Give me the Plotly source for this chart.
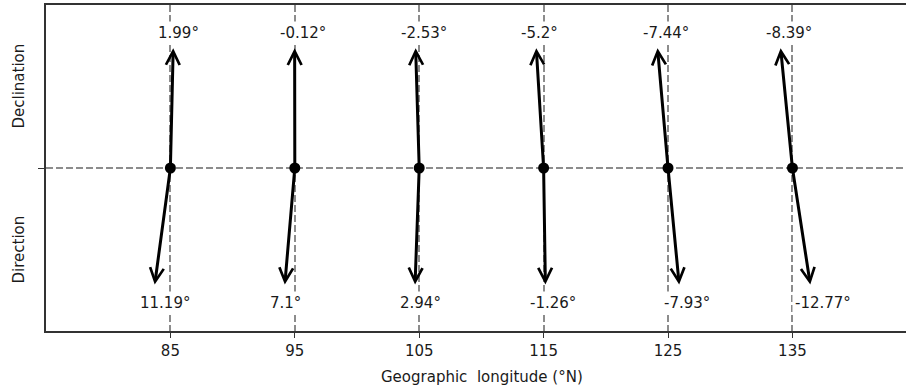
import math
import plotly.graph_objects as go

# ---- data ----
longitudes = [85, 95, 105, 115, 125, 135]
declination_deg = [1.99, -0.12, -2.53, -5.2, -7.44, -8.39]
direction_deg = [11.19, 7.1, 2.94, -1.26, -7.93, -12.77]
tick_labels = ["85", "95", "105", "115", "125", "135"]

# ---- geometry/style ----
X_RANGE = [75, 144.13]
UP_LEN = 0.735
DOWN_LEN = 0.715
DX_SCALE = 6.5
LABEL_Y = 0.83
FONT = "DejaVu Sans"

fig = go.Figure()

fig.add_trace(go.Scatter(
    x=longitudes, y=[0] * len(longitudes), mode="markers",
    marker=dict(color="black", size=11), showlegend=False, hoverinfo="skip"))

annotations = []
for lon, dec, dr in zip(longitudes, declination_deg, direction_deg):
    up_x = lon + DX_SCALE * math.sin(math.radians(dec))
    dn_x = lon - DX_SCALE * math.sin(math.radians(dr))
    for tip_x, tip_y, val, ly in ((up_x, UP_LEN, dec, LABEL_Y), (dn_x, -DOWN_LEN, dr, -LABEL_Y)):
        annotations.append(dict(
            x=tip_x, y=tip_y, ax=lon, ay=0, xref="x", yref="y", axref="x", ayref="y",
            showarrow=True, arrowhead=5, arrowwidth=3, arrowsize=0.9,
            arrowcolor="black", standoff=0, startstandoff=0, text=""))
        annotations.append(dict(
            x=tip_x, y=ly, xref="x", yref="y", showarrow=False,
            text=f"{val}°", xanchor="left", yanchor="middle", xshift=-18,
            bgcolor="white", borderpad=2,
            font=dict(family=FONT, size=15, color="#1a1a1a")))

annotations.append(dict(x=0, y=0.5, xref="paper", yref="y", showarrow=False,
                        text="Declination", textangle=-90, xshift=-28,
                        xanchor="center", yanchor="middle",
                        font=dict(family=FONT, size=15, color="#1a1a1a")))
annotations.append(dict(x=0, y=-0.5, xref="paper", yref="y", showarrow=False,
                        text="Direction", textangle=-90, xshift=-28,
                        xanchor="center", yanchor="middle",
                        font=dict(family=FONT, size=15, color="#1a1a1a")))
annotations.append(dict(x=0.507, y=0, xref="paper", yref="paper", showarrow=False,
                        text="Geographic\u00a0\u00a0longitude\u00a0(°N)", yshift=-46,
                        xanchor="center", yanchor="middle",
                        font=dict(family=FONT, size=15, color="#1a1a1a")))

fig.update_layout(
    width=906, height=389,
    margin=dict(l=46, r=0, t=5, b=58),
    paper_bgcolor="white", plot_bgcolor="white",
    annotations=annotations,
    xaxis=dict(range=X_RANGE, tickvals=longitudes, ticktext=tick_labels,
               showgrid=True, gridcolor="#8c8c8c", gridwidth=1.5, griddash="7px,3px",
               showline=True, linecolor="#333333", linewidth=1.5, mirror=True,
               ticks="outside", ticklen=5, tickwidth=1.3, tickcolor="#333333",
               tickfont=dict(family=FONT, size=15, color="#1a1a1a"), zeroline=False),
    yaxis=dict(range=[-1, 1], tickvals=[0], ticktext=[""],
               showgrid=True, gridcolor="#8c8c8c", gridwidth=1.5, griddash="7px,3px",
               showline=True, linecolor="#333333", linewidth=1.5, mirror=False,
               ticks="outside", ticklen=6, tickwidth=1.3, tickcolor="#333333",
               zeroline=False),
)

fig.write_html("out.html", config={"displayModeBar": False},
               post_script="document.body.style.margin='0';document.body.style.overflow='hidden';")
